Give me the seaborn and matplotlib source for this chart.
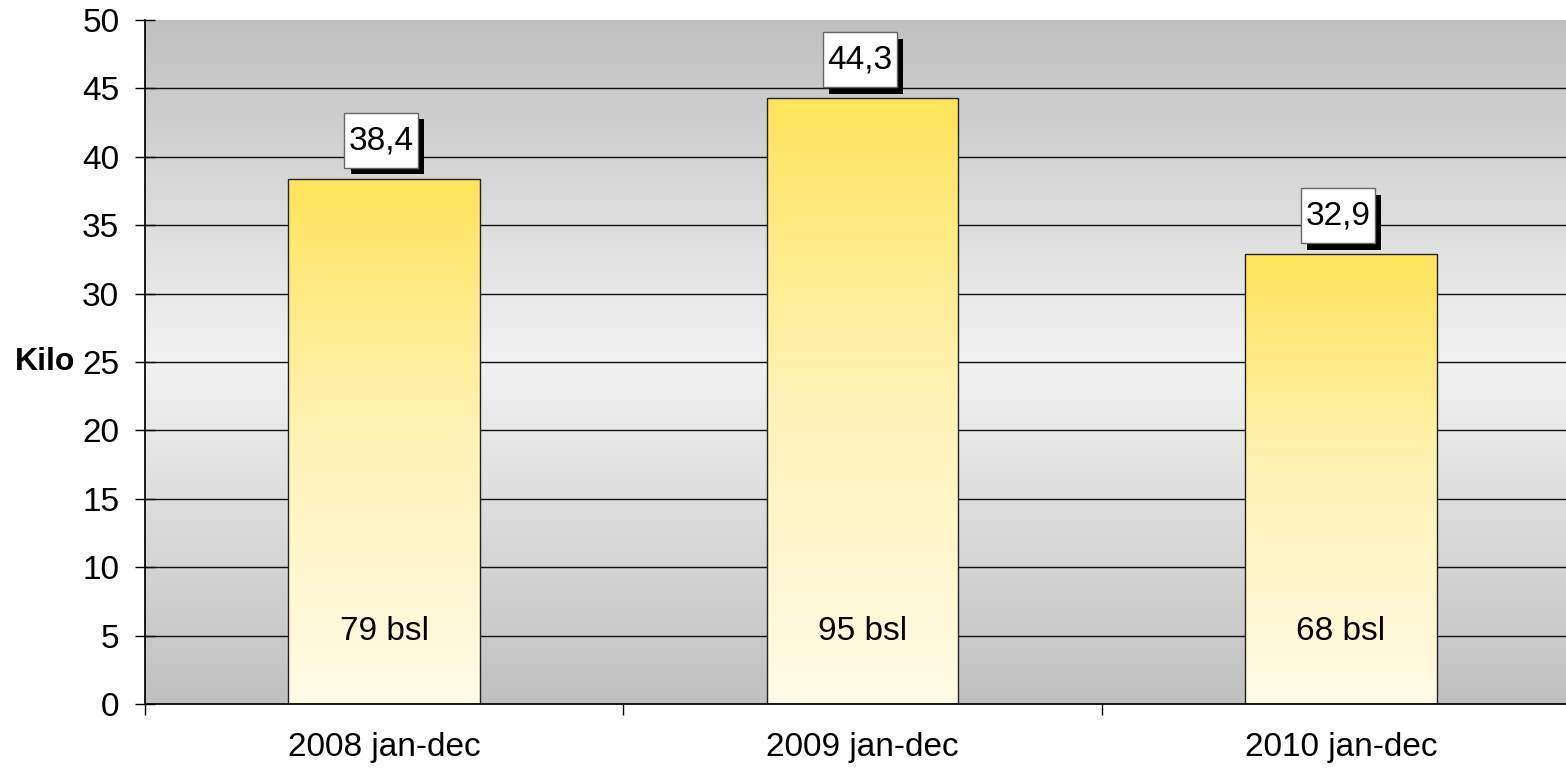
import numpy as np
import pandas as pd
import matplotlib
matplotlib.use("Agg")
import matplotlib.pyplot as plt
import matplotlib.patheffects as pe
from matplotlib.colors import LinearSegmentedColormap
from matplotlib.path import Path
import seaborn as sns

# Data
periods = ["2008 jan-dec", "2009 jan-dec", "2010 jan-dec"]
kilos = [38.4, 44.3, 32.9]
value_labels = ["38,4", "44,3", "32,9"]
count_labels = ["79 bsl", "95 bsl", "68 bsl"]

df = pd.DataFrame({"period": periods, "kilo": kilos})

sns.set_theme(style="white")
plt.rcParams["font.family"] = ["Liberation Sans", "DejaVu Sans"]
plt.rcParams["text.color"] = "black"
plt.rcParams["xtick.color"] = "black"
plt.rcParams["ytick.color"] = "black"
plt.rcParams["axes.labelcolor"] = "black"


def label_box(x0, y0, width, height, mutation_size):
    # box with small side padding and taller top/bottom padding
    px, py = 0.13 * mutation_size, 0.36 * mutation_size
    return Path([(x0 - px, y0 - py), (x0 + width + px, y0 - py),
                 (x0 + width + px, y0 + height + py), (x0 - px, y0 + height + py),
                 (x0 - px, y0 - py)], closed=True)


fig = plt.figure(figsize=(15.66, 7.72), dpi=100)
ax = fig.add_axes([145 / 1566, 68 / 772, 1435 / 1566, 684 / 772])

sns.barplot(data=df, x="period", y="kilo", width=0.4, ax=ax,
            edgecolor="#222222", linewidth=1, zorder=3)

# gray background gradient (dark at top/bottom, light in the middle)
bg = LinearSegmentedColormap.from_list("bg", ["#c0c0c0", "#f2f2f2", "#c0c0c0"])
ax.imshow(np.linspace(0, 1, 256).reshape(-1, 1), cmap=bg, aspect="auto",
          extent=[-0.5, 2.5, 0, 50], origin="lower", zorder=0)

# yellow gradient inside bars
yel = LinearSegmentedColormap.from_list("yel", ["#fffbe6", "#fff3b8", "#ffe45c"])
for p in ax.patches:
    x0, y0 = p.get_x(), p.get_y()
    w, h = p.get_width(), p.get_height()
    im = ax.imshow(np.linspace(0, 1, 256).reshape(-1, 1), cmap=yel, aspect="auto",
                   extent=[x0, x0 + w, y0, y0 + h], origin="lower", zorder=2)
    im.set_clip_path(p)
    p.set_facecolor("none")

ax.set_xlim(-0.5, 2.5)
ax.set_ylim(0, 50)

# grid lines
for yv in range(5, 50, 5):
    ax.axhline(yv, color="#111111", linewidth=1, zorder=1)

# labels
for i, (v, vl, cl) in enumerate(zip(kilos, value_labels, count_labels)):
    t = ax.text(i - 0.006, v + 1.65, vl, ha="center", va="bottom", fontsize=24,
                zorder=5, bbox=dict(boxstyle=label_box, facecolor="white",
                                    edgecolor="#666666", linewidth=1))
    t.get_bbox_patch().set_path_effects([
        pe.SimplePatchShadow(offset=(4.5, -4.5), shadow_rgbFace="black", alpha=1),
        pe.Normal()])
    ax.text(i, 5.3, cl, ha="center", va="center", fontsize=24, zorder=5)

# axes styling
for s in ["top", "right"]:
    ax.spines[s].set_visible(False)
ax.spines["left"].set_color("black")
ax.spines["bottom"].set_color("black")
ax.spines["left"].set_zorder(6)
ax.spines["bottom"].set_zorder(6)

ax.set_yticks(range(0, 51, 5))
ax.tick_params(axis="y", direction="inout", length=15, width=1, color="black",
               labelsize=24, left=True, pad=11)
ax.set_xticks([0, 1, 2])
ax.set_xticks([-0.5, 0.5, 1.5], minor=True)
ax.tick_params(axis="x", which="major", length=0, labelsize=24, pad=20)
ax.tick_params(axis="x", which="minor", direction="out", length=8, width=1,
               color="black", bottom=True)

ax.set_xlabel("")
ax.set_ylabel("Kilo", fontsize=23, fontweight="bold", rotation=0, labelpad=0)
ax.yaxis.set_label_coords(-0.0488, 0.5)
ax.yaxis.label.set_va("center")
ax.yaxis.label.set_ha("right")

plt.savefig("out.png", dpi=100)
